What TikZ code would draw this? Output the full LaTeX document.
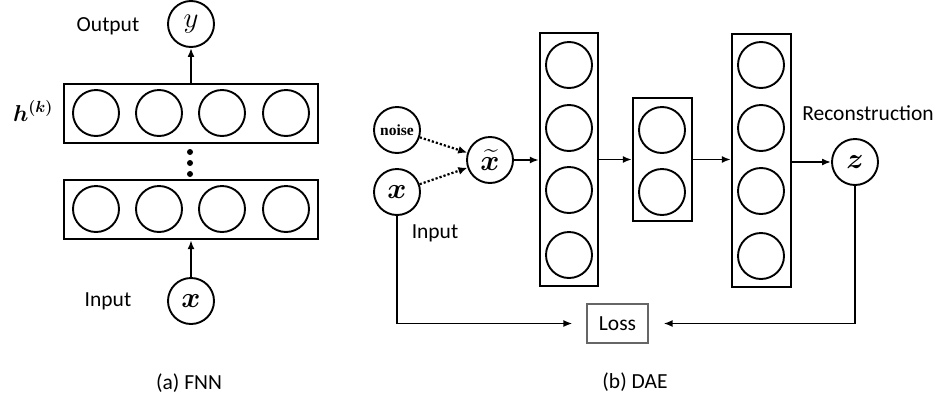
\RequirePackage{fix-cm}
\documentclass[tikz,border=0pt]{standalone}
\usepackage{amsmath,bm}
\usepackage{fontspec}
\setmainfont{Carlito}
\newfontfamily\noisefont{Liberation Serif}
\usetikzlibrary{arrows.meta}
\begin{document}
\begin{tikzpicture}[x=1pt,y=-1pt,
  neuron/.style={draw,circle,line width=1.9pt,minimum size=46pt,inner sep=0pt},
  varnode/.style={draw,circle,line width=1.9pt,minimum size=46pt,inner sep=0pt,font=\fontsize{29}{32}\selectfont},
  layerbox/.style={draw,rectangle,line width=2.3pt,inner sep=0pt},
  lbl/.style={font=\fontsize{21.5}{25}\selectfont,inner sep=0pt},
  arr/.style={line width=1.8pt,-{Latex[length=9pt,width=7pt]}},
  dotarr/.style={line width=2.2pt,dotted,-{Latex[length=9pt,width=8pt]}},
  dotnode/.style={circle,fill,minimum size=6pt,inner sep=0pt}]
\useasboundingbox (0,0) rectangle (937,402);

% ---------- (a) FNN ----------
\node[layerbox,minimum width=254pt,minimum height=59pt] (top) at (191,113.5) {};
\node[layerbox,minimum width=254pt,minimum height=59pt] (bot) at (191,209.5) {};
\foreach \i/\xx in {1/96,2/159,3/222,4/286}{
  \node[neuron] (t\i) at (\xx,113) {};
  \node[neuron] (b\i) at (\xx,209) {};
}
\node[varnode] (y) at (191,24) {$y$};
\node[varnode] (xa) at (191,301) {$\bm{x}$};
\node[lbl] (outlbl) at (108,26) {Output};
\node[lbl] (inlbl) at (108,301) {Input};
\node[inner sep=0pt,font=\fontsize{23}{26}\selectfont] (hk) at (33,111) {$\bm{h^{(k)}}$};
\node[dotnode] (d1) at (190,152) {};
\node[dotnode] (d2) at (190,163) {};
\node[dotnode] (d3) at (190,174) {};
\draw[arr] (top.north) -- (y.south);
\draw[arr] (xa.north) -- (bot.south);
\node[lbl] (capa) at (189,383) {(a) FNN};

% ---------- (b) DAE ----------
\node[draw,circle,line width=1.9pt,minimum size=46pt,inner sep=0pt,font=\noisefont\bfseries\fontsize{15.5}{17}\selectfont] (noise) at (397,130) {noise};
\node[varnode] (xb) at (397,192) {$\bm{x}$};
\node[varnode] (xt) at (490,160) {$\widetilde{\bm{x}}$};
\node[lbl] (inb) at (435,233) {Input};

\node[layerbox,minimum width=58pt,minimum height=253pt] (c1) at (569,159.5) {};
\node[layerbox,minimum width=59pt,minimum height=123pt] (c2) at (662.5,159.5) {};
\node[layerbox,minimum width=59pt,minimum height=253pt] (c3) at (761.5,160.5) {};
\foreach \i/\yy in {1/65,2/128,3/190,4/255}{
  \node[neuron] (e\i) at (569,\yy) {};
}
\node[neuron] (m1) at (662,130) {};
\node[neuron] (m2) at (662,192) {};
\foreach \i/\yy in {1/65,2/128,3/191,4/256}{
  \node[neuron] (r\i) at (761,\yy) {};
}
\node[varnode] (z) at (855,162) {$\bm{z}$};
\node[lbl] (rec) at (868,113) {Reconstruction};
\node[draw=black!60,line width=1.1pt,minimum width=61pt,minimum height=39pt,inner sep=0pt,font=\fontsize{21.5}{25}\selectfont] (loss) at (617.5,323.5) {Loss};

\draw[dotarr] (noise) -- (xt);
\draw[dotarr] (xb) -- (xt);
\draw[arr] (xt.east) -- (c1.west |- xt.east);
\draw[arr] (c1.east) -- (c2.west);
\draw[arr] (c2.east) -- (c3.west |- c2.east);
\draw[arr] (c3.east |- z.west) -- (z.west);
\draw[arr,shorten >=14pt] (xb.south) |- (loss.west);
\draw[arr,shorten >=15pt] (z.south) |- (loss.east);
\node[lbl] (capb) at (635,382) {(b) DAE};
\end{tikzpicture}
\end{document}
